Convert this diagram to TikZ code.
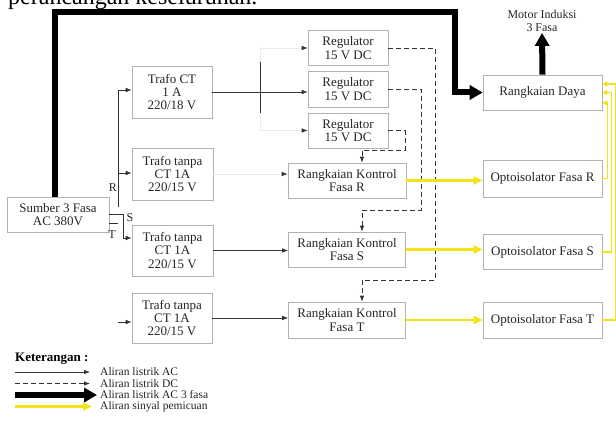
\documentclass[tikz,border=0pt]{standalone}
\usepackage{fontspec}
\setmainfont{Liberation Serif}
\usetikzlibrary{arrows.meta,calc}
\definecolor{sigyellow}{RGB}{245,228,20}
\newcommand{\bxfont}{\fontsize{13}{13.4}\selectfont}
\tikzset{
 box/.style={draw=gray!60, line width=0.6pt, align=center, inner sep=0pt, font=\bxfont, text=black!85},
 acline/.style={line width=0.6pt, draw=black!80},
 ac/.style={acline, -{Latex[length=6pt,width=4.5pt]}},
 faint/.style={line width=0.6pt, draw=gray!15, -{Latex[length=6pt,width=4.5pt,color=black!80]}},
 faintline/.style={line width=0.6pt, draw=gray!15},
 dc/.style={line width=0.8pt, draw=black!80, dash pattern=on 5pt off 3pt, -{Latex[length=6pt,width=4.5pt]}},
 pw/.style={line width=6pt, line join=miter, -{Triangle[length=13pt,width=14pt]}},
 sig/.style={line width=2.4pt, draw=sigyellow, -{Triangle[length=9pt,width=8pt]}},
 sigs/.style={line width=1.6pt, draw=sigyellow, -{Triangle[length=5pt,width=5pt]}},
 lbl/.style={inner sep=0pt, font=\fontsize{12}{13}\selectfont, text=black!85},
 legt/.style={anchor=west, inner sep=0pt, font=\fontsize{11.5}{13}\selectfont, text=black!85},
}
\begin{document}
\begin{tikzpicture}[x=1pt,y=-1pt]
\useasboundingbox (0,0) rectangle (616,430);
\fill[white] (0,0) rectangle (616,430);

\node[anchor=base west, inner sep=0pt, font=\fontsize{24}{24}\selectfont] (title) at (8,5) {perancangan keseluruhan.};

% boxes
\node[box, minimum width=102pt, minimum height=35pt] (sumber) at (58,214.5) {Sumber 3 Fasa\\AC 380V};
\node[box, minimum width=80pt, minimum height=52pt] (trafoCT) at (172,92) {Trafo CT\\1 A\\220/18 V};
\node[box, minimum width=81pt, minimum height=52pt] (trafoR) at (172.5,174) {Trafo tanpa\\CT 1A\\220/15 V};
\node[box, minimum width=81pt, minimum height=51pt] (trafoS) at (172.5,250.5) {Trafo tanpa\\CT 1A\\220/15 V};
\node[box, minimum width=80pt, minimum height=50pt] (trafoT) at (172,318) {Trafo tanpa\\CT 1A\\220/15 V};
\node[box, minimum width=80pt, minimum height=35pt] (reg1) at (348,48) {Regulator\\15 V DC};
\node[box, minimum width=80pt, minimum height=36pt] (reg2) at (348,89) {Regulator\\15 V DC};
\node[box, minimum width=80pt, minimum height=35pt] (reg3) at (348,130.5) {Regulator\\15 V DC};
\node[box, minimum width=118pt, minimum height=35pt] (kR) at (347,180.5) {Rangkaian Kontrol\\Fasa R};
\node[box, minimum width=117pt, minimum height=35pt] (kS) at (347,249.5) {Rangkaian Kontrol\\Fasa S};
\node[box, minimum width=117pt, minimum height=36pt] (kT) at (347,320) {Rangkaian Kontrol\\Fasa T};
\node[box, minimum width=119pt, minimum height=35pt] (daya) at (542.5,92.5) {Rangkaian Daya};
\node[box, minimum width=119pt, minimum height=37pt] (optoR) at (542.5,178.5) {Optoisolator Fasa R};
\node[box, minimum width=119pt, minimum height=35pt] (optoS) at (542.5,252) {Optoisolator Fasa S};
\node[box, minimum width=119pt, minimum height=36pt] (optoT) at (542.5,320) {Optoisolator Fasa T};
\node[inner sep=1pt, align=center, font=\fontsize{12}{13}\selectfont, text=black!85] (motor) at (542,21) {Motor Induksi\\3 Fasa};

% thick 3-phase line
\draw[pw] ([xshift=-3pt]sumber.north) |- (455,12) |- (daya.west);
\draw[pw] (daya.north) -- (motor.south);

% phase inputs
\coordinate (rTop) at (118,90);
\coordinate (rMid) at (118,173);
\coordinate (rBot) at (118,207);
\draw[acline] (rBot) -- (rTop);
\draw[ac] (rTop) -- (trafoCT.west |- rTop);
\draw[ac] (rMid) -- (trafoR.west |- rMid);
\draw[ac] (sumber.east) -| (123,238) -- (trafoS.west |- 123,238);
\draw[acline] ($(sumber.east)+(0,9)$) -- ++(9,0);
\coordinate (tIn) at (118,322);
\draw[ac] (tIn) -- (trafoT.west |- tIn);
\node[lbl] (labR) at (113,188) {R};
\node[lbl] (labS) at (130,218) {S};
\node[lbl] (labT) at (112,235) {T};

% trafo CT to regulators
\coordinate (bus1) at (260,48);
\coordinate (busA) at (260,62);
\coordinate (busB) at (260,113);
\coordinate (bus3) at (260,130.5);
\draw[faintline] (bus1) -- (bus3);
\draw[acline] (busA) -- (busB);
\draw[ac] (trafoCT.east) -- (trafoCT.east -| reg2.west);
\draw[faint] (bus1) -- (reg1.west);
\draw[faint] (bus3) -- (reg3.west);

% trafo to kontrol
\draw[faint] (trafoR.east) -- (kR.west |- trafoR.east);
\draw[ac] (trafoS.east) -- (kS.west |- trafoS.east);
\draw[ac] (trafoT.east) -- (kT.west |- trafoT.east);

% DC lines
\draw[dc] (reg1.east) -| (435,280) -| ([xshift=15pt]kT.north);
\draw[dc] (reg2.east) -| (421,210) -| ([xshift=15pt]kS.north);
\draw[dc] (reg3.east) -| (405,150) -| ([xshift=15pt]kR.north);

% signal lines
\draw[sig] (kR.east) -- (kR.east -| optoR.west);
\draw[sig] (kS.east) -- (kS.east -| optoS.west);
\draw[sig] (kT.east) -- (kT.east -| optoT.west);
\draw[sigs] (optoR.east) -| ($(daya.east)+(5,10.5)$) -- ($(daya.east)+(0,10.5)$);
\draw[sigs] (optoS.east) -| ($(daya.east)+(9,0)$) -- (daya.east);
\draw[sigs] (optoT.east) -| ($(daya.east)+(13,-8.5)$) -- ($(daya.east)+(0,-8.5)$);

% legend
\node[anchor=west, inner sep=0pt, font=\bfseries\fontsize{13}{14}\selectfont] (ket) at (15,359) {Keterangan :};
\node[legt] (t1) at (100,372) {Aliran listrik AC};
\node[legt] (t2) at (100,383.5) {Aliran listrik DC};
\node[legt] (t3) at (100,395) {Aliran listrik AC 3 fasa};
\node[legt] (t4) at (100,406.5) {Aliran sinyal pemicuan};
\coordinate (l1) at (15,372);
\coordinate (l2) at (15,383.5);
\coordinate (l3) at (15,395);
\coordinate (l4) at (15,406.5);
\draw[ac] (l1) -- ([xshift=-10pt]t1.west);
\draw[dc] (l2) -- ([xshift=-10pt]t2.west);
\draw[pw] (l3) -- ([xshift=-3pt]t3.west);
\draw[sig] (l4) -- ([xshift=-8pt]t4.west);
\end{tikzpicture}
\end{document}
